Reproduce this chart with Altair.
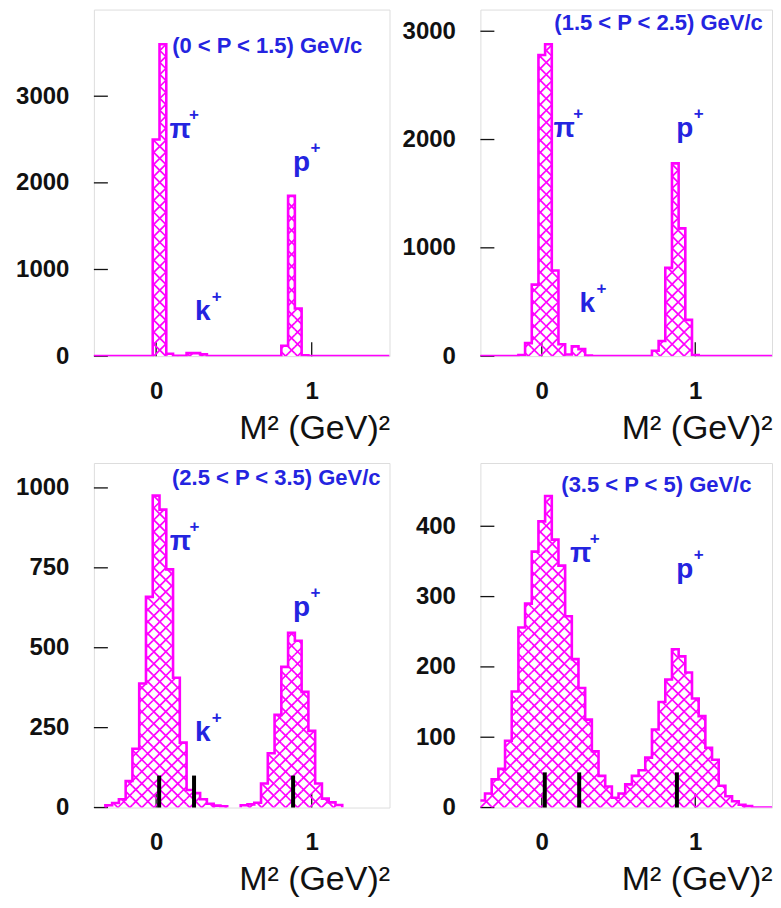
import math
import altair as alt
import pandas as pd

# ---------------- data ----------------
BIN_W = 0.0435                       # bin width in M^2 (GeV)^2, bins centred on k*BIN_W
BIN_INDEX = list(range(-9, 35))      # 44 bins covering -0.4 .. 1.5
X_DOMAIN = [-0.4, 1.5]

# counts per bin (None = bin not drawn)
COUNTS_P1 = [0, 0, 0, 0, 0, 0, 0, 0, 0,
             2500, 3600, 28, 5, 5, 35, 35, 20, 0,
             0, 0, 0, 0, 0, 0, 0, 0, 0, 0,
             120, 1850, 550, 10,
             0, 0, 0, 0, 0, 0, 0, 0, 0, 0, 0, 0]
COUNTS_P2 = [0, 0, 0, 0, 0, 0,
             10, 120, 660, 2780, 2880, 790, 110, 15, 90, 65, 5,
             0, 0, 0, 0, 0, 0, 0, 0, 0,
             50, 140, 815, 1780, 1180, 335, 10,
             0, 0, 0, 0, 0, 0, 0, 0, 0, 0, 0]
COUNTS_P3 = [None, None,
             7, 14, 26, 83, 184, 388, 659, 976, 932, 745, 406, 203, 55, 45, 26, 12, 6, 4,
             None, None,
             7, 10, 15, 75, 170, 290, 440, 547, 522, 362, 240, 75, 28, 16, 8,
             None, None, None, None, None, None, None]
COUNTS_P4 = [10, 20, 40, 55, 95, 165, 256, 290, 364,
             407, 443, 381, 344, 272, 211, 170, 125, 80, 45,
             30, 14, 20, 33, 45, 53, 71, 111, 150, 182,
             225, 215, 192, 155, 130, 85, 68, 31, 16, 9,
             4, 2, 0, 0, 0]

YMAX = [4000, 3200, 1078, 490]
YTICKS = [[0, 1000, 2000, 3000], [0, 1000, 2000, 3000],
          [0, 250, 500, 750, 1000], [0, 100, 200, 300, 400]]
XTICKS = [0, 1]

MOMENTUM = ["(0 < P < 1.5) GeV/c", "(1.5 < P < 2.5) GeV/c",
            "(2.5 < P < 3.5) GeV/c", "(3.5 < P < 5) GeV/c"]
MOMENTUM_POS = [(1.325, 3580), (1.44, 3078), (1.442, 1031), (1.366, 459)]

PARTICLES = ["π", "k", "p"]
PARTICLE_POS = [
    [(0.154, 2607), (0.300, 510), (0.934, 2225)],
    [(0.146, 2093), (0.297, 485), (0.932, 2093)],
    [(0.157, 830), (0.300, 234), (0.935, 625)],
    [(0.253, 360), None, (0.932, 338)],
]

MASS_SQ = [0.0195, 0.2437, 0.8804]   # pi, K, p nominal M^2
MARKER_H = [None, None, 100, 50]

# ---------------- style ----------------
MAGENTA = "#ff00ff"
BLUE = "#2424e0"
INK = "#111111"
FONT = "Liberation Sans"
W = [296, 292, 296, 292]
H = [347, 347, 345, 345]


def outline_rows(counts):
    rows, runs, run = [], [], []
    for k, v in zip(BIN_INDEX, counts):
        if v is None:
            if run:
                runs.append(run)
            run = []
        else:
            run.append((k, v))
    if run:
        runs.append(run)
    for s, r in enumerate(runs):
        o = 0
        rows.append({"x": (r[0][0] - 0.5) * BIN_W, "y": 0, "seg": s, "o": o}); o += 1
        for k, v in r:
            rows.append({"x": (k - 0.5) * BIN_W, "y": v, "seg": s, "o": o}); o += 1
            rows.append({"x": (k + 0.5) * BIN_W, "y": v, "seg": s, "o": o}); o += 1
        rows.append({"x": (r[-1][0] + 0.5) * BIN_W, "y": 0, "seg": s, "o": o})
    return rows


def hatch_rows(counts, ymax, width, height, spacing=12.0):
    sx = width / (X_DOMAIN[1] - X_DOMAIN[0])
    sy = height / ymax
    rows = []

    def add(X1, Y1, X2, Y2):
        rows.append({"x": X_DOMAIN[0] + X1 / sx, "x2": X_DOMAIN[0] + X2 / sx,
                     "y": Y1 / sy, "y2": Y2 / sy})

    for k, v in zip(BIN_INDEX, counts):
        if not v:
            continue
        a = ((k - 0.5) * BIN_W - X_DOMAIN[0]) * sx
        b = ((k + 0.5) * BIN_W - X_DOMAIN[0]) * sx
        top = v * sy
        for n in range(math.ceil((a - top) / spacing), math.floor(b / spacing) + 1):
            t = n * spacing
            lo, hi = max(a, t), min(b, t + top)
            if hi - lo > 0.05:
                add(lo, lo - t, hi, hi - t)
        for n in range(math.ceil(a / spacing), math.floor((b + top) / spacing) + 1):
            t = n * spacing
            lo, hi = max(a, t - top), min(b, t)
            if hi - lo > 0.05:
                add(lo, t - lo, hi, t - hi)
    return rows


def panel(i, counts):
    xscale = alt.Scale(domain=X_DOMAIN, nice=False, zero=False)
    yscale = alt.Scale(domain=[0, YMAX[i]], nice=False, zero=False)
    xaxis = alt.Axis(values=XTICKS, format="d", labelFontSize=24, labelFontWeight="bold",
                     labelFont=FONT, labelColor=INK, labelPadding=23, ticks=False,
                     domain=False, grid=False, title="M² (GeV)²", titleFontSize=34,
                     titleFontWeight="normal", titleFont=FONT, titleColor=INK,
                     titleAnchor="end", titlePadding=8)
    yaxis = alt.Axis(values=YTICKS[i], format="d", labelFontSize=24, labelFontWeight="bold",
                     labelFont=FONT, labelColor=INK, labelPadding=25, ticks=False,
                     domain=False, grid=False, title=None, minExtent=85)

    def X(field="x"):
        return alt.X(f"{field}:Q", scale=xscale, axis=xaxis)

    def Y(field="y"):
        return alt.Y(f"{field}:Q", scale=yscale, axis=yaxis)

    yt = alt.Chart(pd.DataFrame({"y": YTICKS[i]})).mark_rule(color=INK, strokeWidth=1.3).encode(
        y=Y(), x=alt.value(0), x2=alt.value(14))
    xt = alt.Chart(pd.DataFrame({"x": XTICKS})).mark_rule(color=INK, strokeWidth=1.3).encode(
        x=X(), y=alt.value(H[i]), y2=alt.value(H[i] - 14))

    hatch = alt.Chart(pd.DataFrame(hatch_rows(counts, YMAX[i], W[i], H[i]))).mark_rule(
        clip=True, color=MAGENTA, strokeWidth=1.7).encode(
        x=X(), x2="x2:Q", y=Y(), y2="y2:Q")

    line = alt.Chart(pd.DataFrame(outline_rows(counts))).mark_line(
        clip=True, color=MAGENTA, strokeWidth=2.6, strokeJoin="miter").encode(
        x=X(), y=Y(), detail="seg:N", order="o:Q")

    layers = [yt, xt, hatch, line]

    if MARKER_H[i]:
        mk = pd.DataFrame({"x": MASS_SQ, "y": [0] * 3, "y2": [MARKER_H[i]] * 3})
        layers.append(alt.Chart(mk).mark_rule(color="black", strokeWidth=4).encode(
            x=X(), y=Y(), y2="y2:Q"))

    mom = pd.DataFrame({"x": [MOMENTUM_POS[i][0]], "y": [MOMENTUM_POS[i][1]], "t": [MOMENTUM[i]]})
    layers.append(alt.Chart(mom).mark_text(font=FONT, fontWeight="bold", fontSize=22,
                                           color=BLUE, align="right", baseline="middle").encode(
        x=X(), y=Y(), text="t:N"))

    prt = [{"x": p[0], "y": p[1], "t": n} for n, p in zip(PARTICLES, PARTICLE_POS[i]) if p]
    pdf = pd.DataFrame(prt)
    layers.append(alt.Chart(pdf).mark_text(font=FONT, fontWeight="bold", fontSize=28,
                                           color=BLUE, align="center", baseline="middle").encode(
        x=X(), y=Y(), text="t:N"))
    layers.append(alt.Chart(pdf).mark_text(font=FONT, fontWeight="bold", fontSize=17,
                                           color=BLUE, align="center", baseline="middle",
                                           text="+", dx=14, dy=-15).encode(
        x=X(), y=Y()))

    return alt.layer(*layers).properties(width=W[i], height=H[i])


p1 = panel(0, COUNTS_P1)
p2 = panel(1, COUNTS_P2)
p3 = panel(2, COUNTS_P3)
p4 = panel(3, COUNTS_P4)

chart = alt.vconcat(
    alt.hconcat(p1, p2, spacing=4),
    alt.hconcat(p3, p4, spacing=4),
    spacing=16,
).properties(
    padding={"left": 0, "top": 0, "right": 0, "bottom": 0}
).configure_view(stroke=INK, strokeWidth=1.5).configure(background="white")

chart.save("out.html", embed_options={"renderer": "svg", "actions": False})
